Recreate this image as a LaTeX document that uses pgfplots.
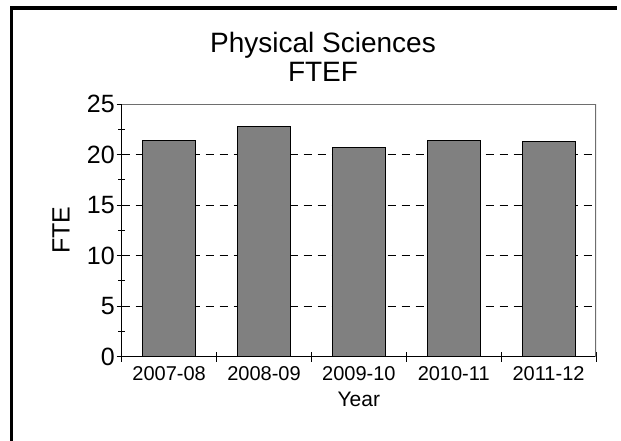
\documentclass[border=0pt]{standalone}
\usepackage{fontspec}
\setmainfont{Liberation Sans}
\usepackage{pgfplots}
\pgfplotsset{compat=1.18}
\definecolor{barfill}{HTML}{808080}
\definecolor{boxgray}{HTML}{6E6E6E}

\begin{document}
\begin{tikzpicture}[x=1pt,y=1pt]
\useasboundingbox (0,0) rectangle (621,440);
% outer frame: only its left and top edges fall inside the picture
\draw[line width=3.3pt] (11.7,-10) -- (11.7,432) -- (617,432);
\node[font=\fontsize{28}{32}\selectfont, anchor=base] at (323,387.3) {Physical Sciences};
\node[font=\fontsize{28}{32}\selectfont, anchor=base] at (323,358) {FTEF};

\begin{axis}[
  at={(121.7pt,83.3pt)}, anchor=south west,
  scale only axis,
  width=474.3pt, height=252.7pt,
  ybar, bar width=0.56,
  xmin=0.5, xmax=5.5,
  ymin=0, ymax=25,
  axis lines*=left,
  axis line style={line width=1pt, black},
  xtick={0.5,1.5,...,5.5},
  x tick label as interval,
  xticklabels={2007-08,2008-09,2009-10,2010-11,2011-12},
  ytick={0,5,...,25},
  minor y tick num=1,
  tick align=center,
  major tick length=10pt,
  minor tick length=6.5pt,
  tick style={line width=1pt, black},
  ymajorgrids,
  major grid style={line width=1pt, black, dash pattern=on 8pt off 6pt},
  /pgf/number format/assume math mode=true,
  yticklabel style={font=\fontsize{25}{30}\selectfont, anchor=east, xshift=1.5pt},
  xticklabel style={font=\fontsize{20}{24}\selectfont, anchor=base, yshift=-18.3pt},
  xlabel={Year},
  ylabel={FTE},
  every axis x label/.style={at={(rel axis cs:0.5,0)}, anchor=base, yshift=-50pt,
    font=\fontsize{21}{25}\selectfont},
  every axis y label/.style={at={(rel axis cs:0,0.5)}, anchor=center, rotate=90,
    yshift=60.7pt, font=\fontsize{25}{30}\selectfont},
]
\addplot[fill=barfill, draw=black, line width=1pt] coordinates {
  (1,21.42) (2,22.73) (3,20.66) (4,21.38) (5,21.25)
};
\draw[boxgray, line width=1.3pt] (rel axis cs:0,1) -- (rel axis cs:1,1) -- (rel axis cs:1,0);
\end{axis}
\end{tikzpicture}
\end{document}
